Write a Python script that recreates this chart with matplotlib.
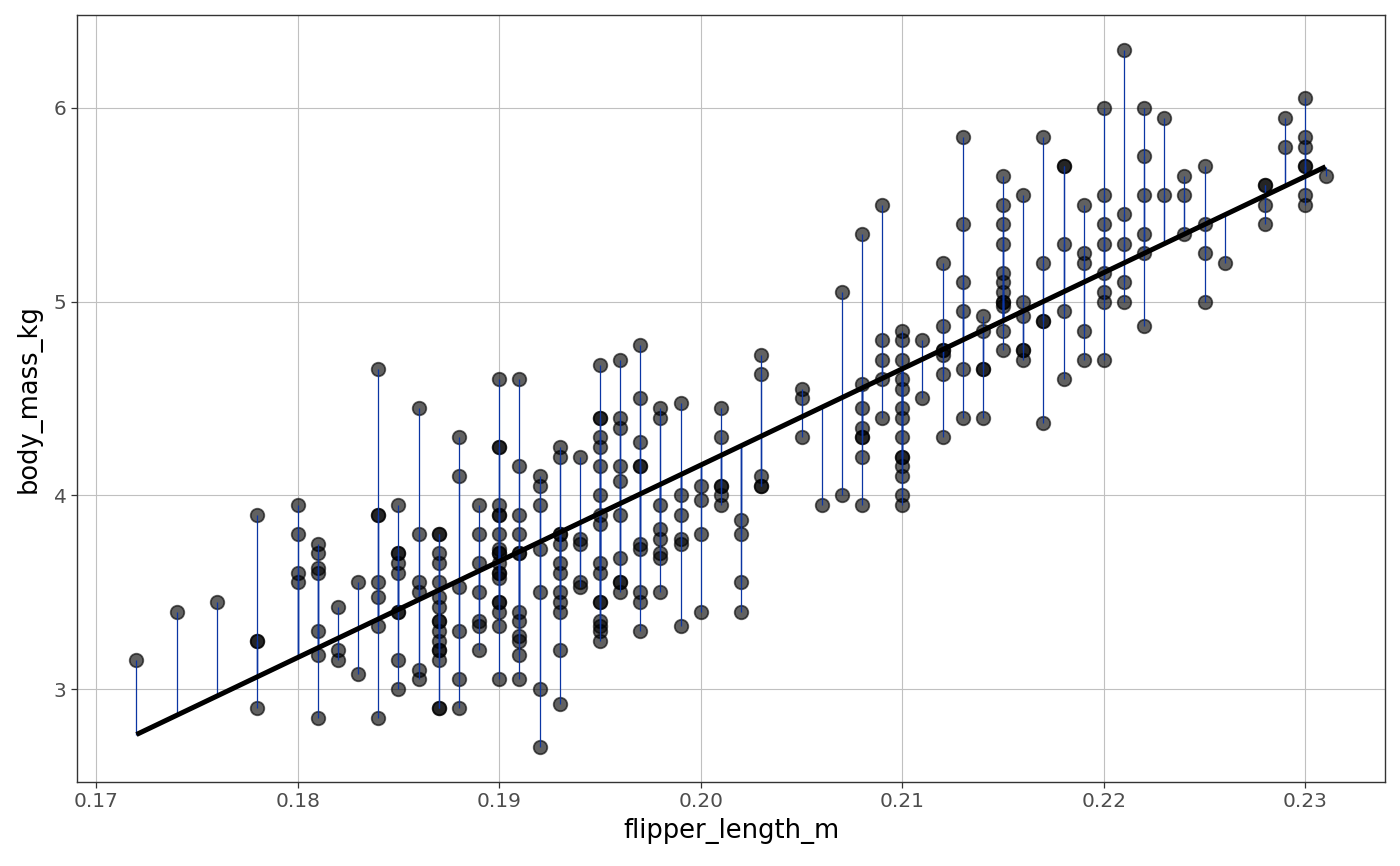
import numpy as np
import matplotlib
matplotlib.use("Agg")
import matplotlib.pyplot as plt

# ---- data (flipper length in m, body mass in kg) ----
flipper_length_m = (
    [0.172] * 1 + [0.174] * 1 + [0.176] * 1 + [0.178] * 4 + [0.180] * 4 +
    [0.181] * 7 + [0.182] * 3 + [0.183] * 2 + [0.184] * 7 + [0.185] * 9 +
    [0.186] * 6 + [0.187] * 16 + [0.188] * 6 + [0.189] * 7 + [0.190] * 19 +
    [0.191] * 12 + [0.192] * 7 + [0.193] * 12 + [0.194] * 5 + [0.195] * 17 +
    [0.196] * 10 + [0.197] * 10 + [0.198] * 8 + [0.199] * 6 + [0.200] * 4 +
    [0.201] * 6 + [0.202] * 4 + [0.203] * 5 + [0.205] * 3 + [0.206] * 1 +
    [0.207] * 2 + [0.208] * 8 + [0.209] * 5 + [0.210] * 14 + [0.211] * 2 +
    [0.212] * 7 + [0.213] * 6 + [0.214] * 5 + [0.215] * 12 + [0.216] * 6 +
    [0.217] * 5 + [0.218] * 5 + [0.219] * 5 + [0.220] * 8 + [0.221] * 5 +
    [0.222] * 6 + [0.223] * 2 + [0.224] * 3 + [0.225] * 4 + [0.226] * 1 +
    [0.228] * 4 + [0.229] * 2 + [0.230] * 7 + [0.231] * 1
)

body_mass_kg = [
    3.15,
    3.4,
    3.45,
    3.9, 3.25, 3.25, 2.9,
    3.95, 3.8, 3.6, 3.55,
    3.75, 3.7, 3.625, 3.6, 3.3, 3.175, 2.85,
    3.425, 3.2, 3.15,
    3.55, 3.075,
    4.65, 3.9, 3.9, 3.55, 3.475, 3.325, 2.85,
    3.95, 3.7, 3.7, 3.65, 3.6, 3.4, 3.4, 3.15, 3.0,
    4.45, 3.8, 3.55, 3.5, 3.1, 3.05,
    3.8, 3.8, 3.7, 3.65, 3.55, 3.475, 3.425, 3.35, 3.35, 3.3, 3.25, 3.2, 3.2, 3.15, 2.9, 2.9,
    4.3, 4.1, 3.525, 3.3, 3.05, 2.9,
    3.95, 3.8, 3.65, 3.5, 3.35, 3.325, 3.2,
    4.6, 4.25, 4.25, 3.95, 3.9, 3.9, 3.8, 3.725, 3.7, 3.7, 3.65, 3.6, 3.6, 3.575, 3.45, 3.45, 3.4, 3.325, 3.05,
    4.6, 4.15, 3.9, 3.8, 3.7, 3.7, 3.4, 3.35, 3.275, 3.25, 3.175, 3.05,
    4.1, 4.05, 3.95, 3.725, 3.5, 3.0, 2.7,
    4.25, 4.2, 3.8, 3.8, 3.75, 3.65, 3.6, 3.5, 3.45, 3.4, 3.2, 2.925,
    4.2, 3.775, 3.75, 3.55, 3.525,
    4.675, 4.4, 4.4, 4.3, 4.25, 4.15, 4.0, 3.9, 3.85, 3.65, 3.6, 3.45, 3.45, 3.35, 3.325, 3.3, 3.25,
    4.7, 4.4, 4.35, 4.15, 4.075, 3.9, 3.675, 3.55, 3.55, 3.5,
    4.775, 4.5, 4.275, 4.15, 4.15, 3.75, 3.725, 3.5, 3.45, 3.3,
    4.45, 4.4, 3.95, 3.825, 3.775, 3.7, 3.675, 3.5,
    4.475, 4.0, 3.9, 3.775, 3.75, 3.325,
    4.05, 3.975, 3.8, 3.4,
    4.45, 4.3, 4.05, 4.05, 4.0, 3.95,
    3.875, 3.8, 3.55, 3.4,
    4.725, 4.625, 4.1, 4.05, 4.05,
    4.55, 4.5, 4.3,
    3.95,
    5.05, 4.0,
    5.35, 4.575, 4.45, 4.35, 4.3, 4.3, 4.2, 3.95,
    5.5, 4.8, 4.7, 4.6, 4.4,
    4.85, 4.8, 4.7, 4.6, 4.55, 4.45, 4.4, 4.3, 4.2, 4.2, 4.15, 4.1, 4.0, 3.95,
    4.8, 4.5,
    5.2, 4.875, 4.75, 4.75, 4.725, 4.625, 4.3,
    5.85, 5.4, 5.1, 4.95, 4.65, 4.4,
    4.925, 4.85, 4.65, 4.65, 4.4,
    5.65, 5.5, 5.4, 5.3, 5.15, 5.1, 5.05, 5.0, 5.0, 4.975, 4.85, 4.75,
    5.55, 5.0, 4.925, 4.75, 4.75, 4.7,
    5.85, 5.2, 4.9, 4.9, 4.375,
    5.7, 5.7, 5.3, 4.95, 4.6,
    5.5, 5.25, 5.2, 4.85, 4.7,
    6.0, 5.55, 5.4, 5.3, 5.15, 5.05, 5.0, 4.7,
    6.3, 5.45, 5.3, 5.1, 5.0,
    6.0, 5.75, 5.55, 5.35, 5.25, 4.875,
    5.95, 5.55,
    5.65, 5.55, 5.35,
    5.7, 5.4, 5.25, 5.0,
    5.2,
    5.6, 5.6, 5.5, 5.4,
    5.95, 5.8,
    6.05, 5.85, 5.8, 5.7, 5.7, 5.55, 5.5,
    5.65,
]

# fitted linear model
fit_intercept = -5.7808
fit_slope = 49.686

x_ticks = [0.17, 0.18, 0.19, 0.20, 0.21, 0.22, 0.23]
x_tick_labels = ["0.17", "0.18", "0.19", "0.20", "0.21", "0.22", "0.23"]
y_ticks = [3, 4, 5, 6]
y_tick_labels = ["3", "4", "5", "6"]

x = np.array(flipper_length_m)
y = np.array(body_mass_kg)
fitted = fit_intercept + fit_slope * x

fig = plt.figure(figsize=(14, 8.66), dpi=100)
ax = fig.add_axes([0.055, 0.097, 0.9343, 0.8857])

ax.scatter(x, y, s=95, facecolor=(0, 0, 0, 0.62), edgecolor=(0, 0, 0, 0.62),
           linewidths=1.3, zorder=3)
ax.vlines(x, y, fitted, colors="#0b35a3", linewidth=0.9, zorder=4)
xl = np.array([x.min(), x.max()])
ax.plot(xl, fit_intercept + fit_slope * xl, color="black", linewidth=3.6,
        solid_capstyle="butt", zorder=5)

xr = x.max() - x.min()
yr = y.max() - y.min()
ax.set_xlim(x.min() - 0.05 * xr, x.max() + 0.05 * xr)
ax.set_ylim(y.min() - 0.05 * yr, y.max() + 0.05 * yr)

ax.set_xticks(x_ticks)
ax.set_xticklabels(x_tick_labels)
ax.set_yticks(y_ticks)
ax.set_yticklabels(y_tick_labels)
ax.grid(True, color="#c0c0c0", linewidth=0.8)
ax.set_axisbelow(True)
for s in ax.spines.values():
    s.set_color("#333333")
    s.set_linewidth(1.0)
ax.tick_params(axis="both", colors="#333333", length=4.5, width=0.9,
               labelsize=14.5, labelcolor="#4d4d4d", pad=3)

ax.set_xlabel("flipper_length_m", fontsize=18.5, color="black", labelpad=5)
ax.set_ylabel("body_mass_kg", fontsize=18.5, color="black", labelpad=9)

fig.savefig("out.png", dpi=100, facecolor="white")
